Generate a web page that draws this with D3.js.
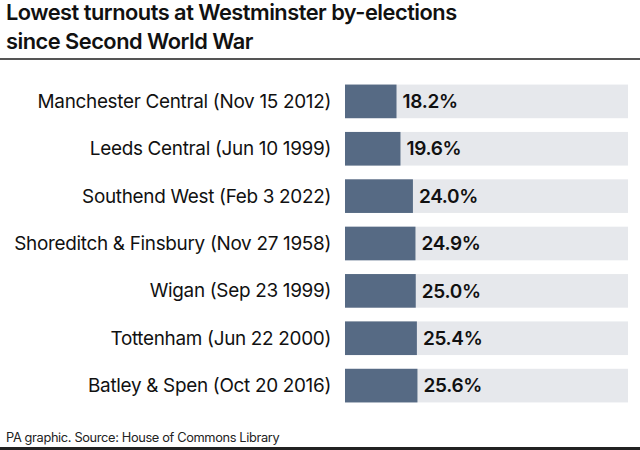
<!DOCTYPE html>
<html><head><meta charset="utf-8">
<script src="https://cdn.jsdelivr.net/npm/d3@7"></script>
<style>body{margin:0;background:#fff}svg{display:block}</style>
</head><body><svg id="c" width="640" height="450"></svg>
<script>
const categories = ["Manchester Central (Nov 15 2012)","Leeds Central (Jun 10 1999)","Southend West (Feb 3 2022)","Shoreditch & Finsbury (Nov 27 1958)","Wigan (Sep 23 1999)","Tottenham (Jun 22 2000)","Batley & Spen (Oct 20 2016)"];
const turnout = [18.2,19.6,24.0,24.9,25.0,25.4,25.6];
const titleLines = ["Lowest turnouts at Westminster by-elections","since Second World War"];
const source = "PA graphic. Source: House of Commons Library";

const svg = d3.select("#c");
const font = "Inter, 'Liberation Sans', sans-serif";
svg.append("rect").attr("width",640).attr("height",450).attr("fill","#fff");
svg.selectAll("text.title").data(titleLines).join("text").attr("class","title")
  .attr("x",6).attr("y",(d,i)=>20+i*29).attr("font-family",font).attr("font-size",21.8)
  .attr("font-weight",600).attr("fill","#111").attr("letter-spacing",-0.5).text(d=>d);
svg.append("rect").attr("x",0).attr("y",58).attr("width",640).attr("height",2).attr("fill","#555");

const x = d3.scaleLinear().domain([0,100]).range([345,628]);
const y = d3.scaleBand().domain(categories).range([77,410]).paddingInner(0.29).paddingOuter(0.16);
const g = svg.append("g");
g.selectAll("rect.track").data(categories).join("rect").attr("class","track")
  .attr("x",x(0)).attr("y",d=>y(d)).attr("width",x(100)-x(0)).attr("height",y.bandwidth()).attr("fill","#e6e8ec");
g.selectAll("rect.bar").data(turnout).join("rect").attr("class","bar")
  .attr("x",x(0)).attr("y",(d,i)=>y(categories[i])).attr("width",d=>x(d)-x(0)).attr("height",y.bandwidth()).attr("fill","#566a84");
g.selectAll("text.lab").data(categories).join("text").attr("class","lab")
  .attr("x",331).attr("y",d=>y(d)+y.bandwidth()/2).attr("dy","0.35em").attr("text-anchor","end")
  .attr("font-family",font).attr("font-size",18.9).attr("fill","#111").attr("letter-spacing",-0.3).text(d=>d);
g.selectAll("text.val").data(turnout).join("text").attr("class","val")
  .attr("x",d=>x(d)+6).attr("y",(d,i)=>y(categories[i])+y.bandwidth()/2).attr("dy","0.35em")
  .attr("font-family",font).attr("font-size",19).attr("font-weight",600).attr("fill","#111").attr("letter-spacing",-0.3)
  .text(d=>d.toFixed(1)+"%");
svg.append("text").attr("x",6).attr("y",442).attr("font-family",font).attr("font-size",12.8).attr("fill","#222")
  .attr("letter-spacing",-0.35).text(source);
svg.append("rect").attr("x",0).attr("y",447).attr("width",640).attr("height",3).attr("fill","#222");
</script></body></html>
